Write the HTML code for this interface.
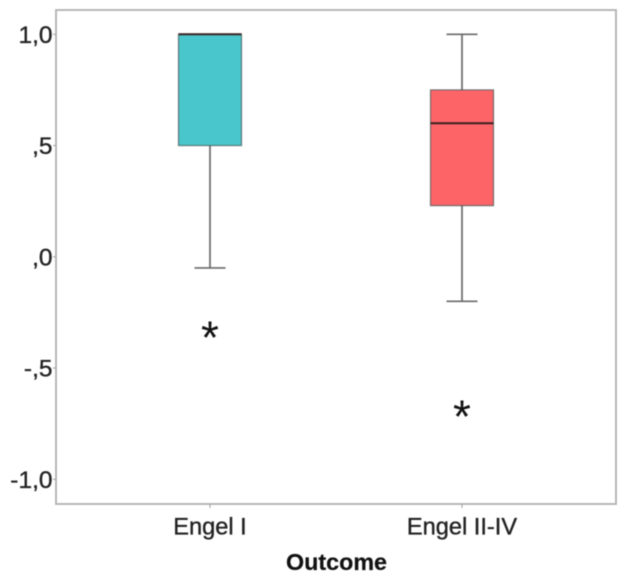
<!DOCTYPE html>
<html>
<head>
<meta charset="utf-8">
<title>Outcome boxplot</title>
<style>
html,body{margin:0;padding:0;background:#fff;width:630px;height:579px;overflow:hidden}
svg{display:block;filter:blur(0.5px)}
text{font-family:"Liberation Sans",sans-serif;fill:#222;stroke:#222;stroke-width:0.35px}
</style>
</head>
<body>
<svg id="chart" width="630" height="579" viewBox="0 0 630 579" xmlns="http://www.w3.org/2000/svg"></svg>
<script>
const categories = ["Engel I", "Engel II-IV"];
const colors = ["#48c6cb", "#fd6468"];
const q1Values = [0.5, 0.23];
const medianValues = [1.0, 0.6];
const q3Values = [1.0, 0.75];
const whiskerLow = [-0.05, -0.2];
const whiskerHigh = [1.0, 1.0];
const outliers = [-0.335, -0.69];
const yTicks = [1.0, 0.5, 0.0, -0.5, -1.0];
const yTickLabels = ["1,0", ",5", ",0", "-,5", "-1,0"];
const xAxisTitle = "Outcome";

const NS = "http://www.w3.org/2000/svg";
const svg = document.getElementById("chart");
const frame = {left: 56, top: 10, right: 616, bottom: 504};
function yScale(v) { return 256.8 - v * 222.5; }
function xScale(i) { return 210 + i * 252; }
function make(tag, attrs, parent) {
  const el = document.createElementNS(NS, tag);
  for (const k in attrs) el.setAttribute(k, attrs[k]);
  (parent || svg).appendChild(el);
  return el;
}

const plotFrame = make("rect", {x: frame.left, y: frame.top, width: frame.right - frame.left, height: frame.bottom - frame.top, fill: "#fff", stroke: "#b0b0b0", "stroke-width": 1.8});



yTicks.forEach(function (t, i) {
  const y = yScale(t);
  const tick = make("line", {x1: frame.left - 3, x2: frame.left, y1: y, y2: y, stroke: "#a0a0a0", "stroke-width": 1});
  
  
  const label = make("text", {x: 52.5, y: y + 8.5, "text-anchor": "end", "font-size": 24.5});
  label.textContent = yTickLabels[i];
  
  
});

categories.forEach(function (c, i) {
  const x = xScale(i);
  const halfBox = 31.5;
  const halfCap = 15.5;
  const tick = make("line", {x1: x, x2: x, y1: frame.bottom, y2: frame.bottom + 4, stroke: "#a0a0a0", "stroke-width": 1});
  
  

  const whiskerLine = make("line", {x1: x, x2: x, y1: yScale(whiskerHigh[i]), y2: yScale(whiskerLow[i]), stroke: "#6a6a6a", "stroke-width": 1.7});
  
  

  [whiskerHigh[i], whiskerLow[i]].forEach(function (w) {
    const cap = make("line", {x1: x - halfCap, x2: x + halfCap, y1: yScale(w), y2: yScale(w), stroke: "#6a6a6a", "stroke-width": 1.7});
    
    
  });

  const box = make("rect", {x: x - halfBox, y: yScale(q3Values[i]), width: halfBox * 2, height: yScale(q1Values[i]) - yScale(q3Values[i]), fill: colors[i], stroke: "#4a5a5a", "stroke-opacity": 0.75, "stroke-width": 1.2});
  
  

  const median = make("line", {x1: x - halfBox, x2: x + halfBox, y1: yScale(medianValues[i]), y2: yScale(medianValues[i]), stroke: "#3a2020", "stroke-width": 2});
  
  

  const outlier = make("text", {x: x, y: yScale(outliers[i]) + 22.4, "text-anchor": "middle", "font-size": 46, style: "fill:#111;stroke:none"});
  outlier.textContent = "*";
  
  

  const label = make("text", {x: x, y: 534.5, "text-anchor": "middle", "font-size": 23.6});
  label.textContent = c;
  
  
});

const title = make("text", {x: 336.5, y: 570, "text-anchor": "middle", "font-size": 23.3, "font-weight": "bold", style: "fill:#111;stroke:#111;stroke-width:0.2px"});
title.textContent = xAxisTitle;


</script>
</body>
</html>
